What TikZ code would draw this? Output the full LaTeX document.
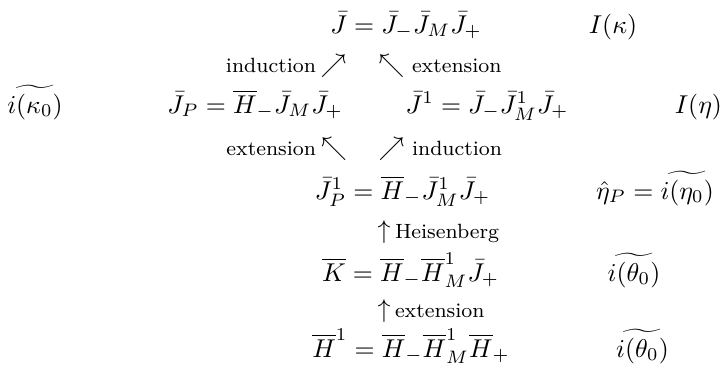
\documentclass[tikz,border=0pt]{standalone}
\begin{document}
\begin{tikzpicture}[x=0.388pt,y=-0.388pt,
  every node/.style={inner sep=0pt, outer sep=0pt, anchor=base},
  lab/.style={font=\footnotesize},
  arr/.style={anchor=base}]
\useasboundingbox (0,0) rectangle (722,369);
% row 1
\node (r1) at (406,33) {$\bar J=\bar J_-\bar J_M\bar J_+$};
\node (r1r) at (613,33) {$I(\kappa)$};
% labels row 1
\node[lab, anchor=base east] (l1a) at (316,72) {induction};
\node[arr] (a1) at (333.5,72) {$\nearrow$};
\node[arr] (a2) at (391.5,72) {$\nwarrow$};
\node[lab, anchor=base west] (l1b) at (412,72) {extension};
% row 2
\node (r2l) at (35,113) {$\widetilde{i(\kappa_0)}$};
\node (r2a) at (255,113) {$\bar J_P=\overline{H}_-\bar J_M\bar J_+$};
\node (r2b) at (487,113) {$\bar J^1=\bar J_-\bar J^1_M\bar J_+$};
\node[anchor=base east] (r2r) at (722,113) {$I(\eta)$};
% labels row 2
\node[lab, anchor=base east] (l2a) at (316,155) {extension};
\node[arr] (a3) at (334,155) {$\nwarrow$};
\node[arr] (a4) at (391.5,155) {$\nearrow$};
\node[lab, anchor=base west] (l2b) at (412,155) {induction};
% row 3
\node (r3) at (402.5,199) {$\bar J^1_P=\overline{H}_-\bar J^1_M\bar J_+$};
\node (r3r) at (655,199) {$\hat\eta_P=\widetilde{i(\eta_0)}$};
% Heisenberg
\node[arr] (a5) at (384,238) {$\uparrow$};
\node[lab, anchor=base west] (l3) at (395,238) {Heisenberg};
% row 4
\node (r4) at (410.5,281) {$\overline{K}=\overline{H}_-\overline{H}^1_M\bar J_+$};
\node (r4r) at (634,281) {$\widetilde{i(\theta_0)}$};
% extension
\node[arr] (a6) at (384,317) {$\uparrow$};
\node[lab, anchor=base west] (l4) at (395,317) {extension};
% row 5
\node (r5) at (411,357) {$\overline{H}^1=\overline{H}_-\overline{H}^1_M\overline{H}_+$};
\node (r5r) at (642.5,357) {$\widetilde{i(\theta_0)}$};
\end{tikzpicture}
\end{document}
